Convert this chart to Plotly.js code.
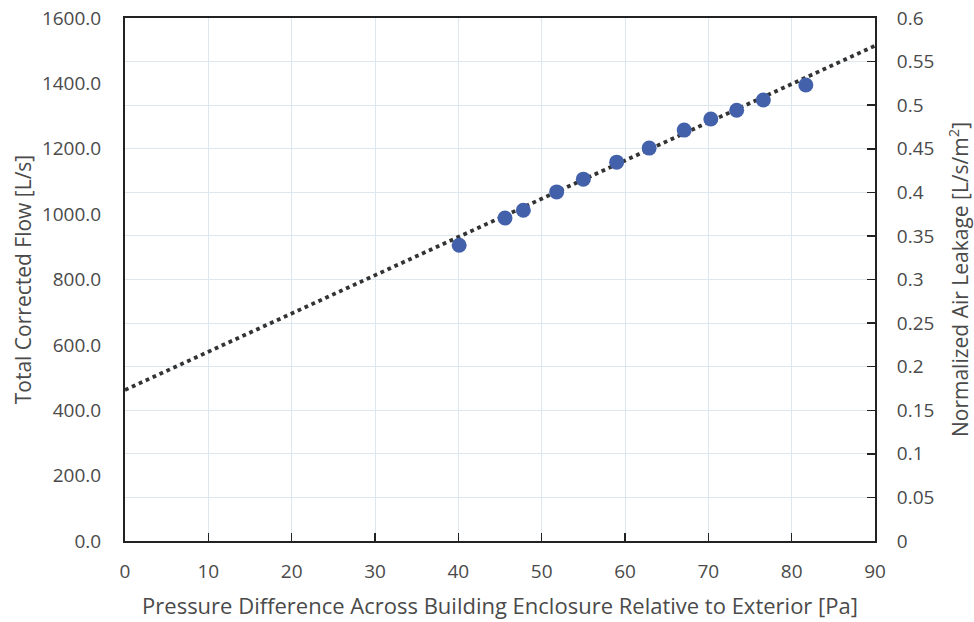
<!DOCTYPE html>
<html>
<head>
<meta charset="utf-8">
<script src="https://cdn.plot.ly/plotly-3.0.1.min.js"></script>
<style>html,body{margin:0;padding:0;background:#fff;}#chart{width:974px;height:622px;}</style>
</head>
<body>
<div id="chart"></div>
<script>
// Measured points
const pressurePa = [40.1, 45.6, 47.8, 51.8, 55.0, 59.0, 62.9, 67.1, 70.3, 73.4, 76.6, 81.7];
const flowLs = [905, 988, 1012, 1068, 1107, 1159, 1202, 1257, 1291, 1318, 1349, 1395];
// Trendline endpoints
const trendX = [0, 90];
const trendY = [462, 1515];

const font = "'Open Sans', 'Noto Sans', sans-serif";
const tickCol = '#4a4a4a';
const gridCol = '#dde7ee';

const traces = [
  {
    x: trendX, y: trendY, type: 'scatter', mode: 'lines',
    line: {color: '#333333', width: 3.8, dash: 'dot'},
    hoverinfo: 'skip', showlegend: false
  },
  {
    x: pressurePa, y: flowLs, type: 'scatter', mode: 'markers',
    marker: {color: '#4361ab', size: 15},
    showlegend: false
  },
  {
    x: [], y: [], yaxis: 'y2', type: 'scatter', mode: 'markers',
    showlegend: false, hoverinfo: 'skip'
  }
];

const layout = {
  width: 974, height: 622,
  margin: {l: 125, r: 99, t: 18, b: 81},
  paper_bgcolor: '#ffffff', plot_bgcolor: '#ffffff',
  font: {family: font, color: tickCol, size: 19},
  showlegend: false,
  xaxis: {
    range: [0, 90], dtick: 10, tick0: 0,
    showgrid: true, gridcolor: gridCol, gridwidth: 1,
    zeroline: false,
    showline: true, linecolor: '#222222', linewidth: 2, mirror: true,
    ticks: 'inside', ticklen: 8, tickcolor: '#222222', tickwidth: 1.5,
    tickfont: {family: font, size: 19, color: tickCol},
    ticklabelstandoff: 12,
    title: {text: 'Pressure Difference Across Building Enclosure Relative to Exterior [Pa]',
            font: {family: font, size: 22, color: tickCol}, standoff: 16}
  },
  yaxis: {
    range: [0, 1600], dtick: 200, tick0: 0, tickformat: '.1f',
    showgrid: false, zeroline: false,
    showline: true, linecolor: '#222222', linewidth: 2,
    ticks: '', ticklabelstandoff: 18,
    tickfont: {family: font, size: 19, color: tickCol},
    title: {text: 'Total Corrected Flow [L/s]', font: {family: font, size: 21, color: tickCol}, standoff: 5}
  },
  yaxis2: {
    overlaying: 'y', side: 'right',
    range: [0, 0.6], dtick: 0.05, tick0: 0,
    showgrid: true, gridcolor: gridCol, gridwidth: 1,
    zeroline: false,
    showline: true, linecolor: '#222222', linewidth: 2,
    ticks: 'inside', ticklen: 8, tickcolor: '#222222', tickwidth: 1.5,
    ticklabelstandoff: 16,
    tickfont: {family: font, size: 19, color: tickCol},
    title: {text: 'Normalized Air Leakage [L/s/m<sup>2</sup>]', font: {family: font, size: 21, color: tickCol}, standoff: 22}
  }
};

Plotly.newPlot('chart', traces, layout, {displayModeBar: false, staticPlot: true});
</script>
</body>
</html>
